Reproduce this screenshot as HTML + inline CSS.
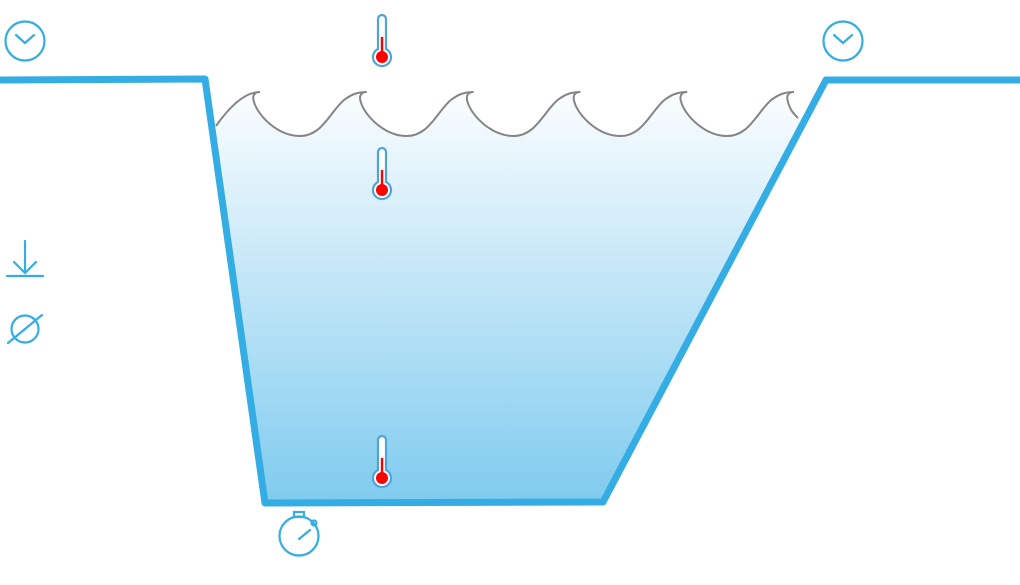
<!DOCTYPE html>
<html><head><meta charset="utf-8"><style>html,body{margin:0;padding:0;background:#fff;width:1020px;height:585px;overflow:hidden}</style></head>
<body>
<svg width="1020" height="585" viewBox="0 0 1020 585">
<defs>
<linearGradient id="wg" x1="0" y1="0" x2="0" y2="1">
<stop offset="0" stop-color="#fbfdff"/><stop offset="1" stop-color="#7fcbee"/>
</linearGradient>
</defs>
<g id="water"></g>
<path d="M0,80 L205,79 L265,503 L603,502 L826,80 L1020,80" fill="none" stroke="#33ade3" stroke-width="7" stroke-linejoin="round"/>
<g id="thermos"></g>
<g fill="none" stroke="#33ade3" stroke-width="2.2" stroke-linecap="round">
<circle cx="25" cy="41" r="19.5"/><path d="M16,35 L25,43 L34,35"/></g>
<g fill="none" stroke="#33ade3" stroke-width="2.2" stroke-linecap="round">
<circle cx="843" cy="41" r="19.5"/><path d="M834,35 L843,43 L852,35"/></g>
<g fill="none" stroke="#33ade3" stroke-width="2.2" stroke-linecap="round">
<path d="M25,241 L25,272 M14,262 L25,273 L36,262 M7,276 L43,276"/></g>
<g fill="none" stroke="#33ade3" stroke-width="2.2" stroke-linecap="round">
<circle cx="25" cy="329" r="13.5"/><path d="M8,343 L42,315"/></g>
<g fill="none" stroke="#33ade3" stroke-width="2.2" stroke-linecap="round">
<circle cx="299" cy="536" r="19.5"/><rect x="294" y="512" width="10" height="5"/><circle cx="314" cy="523" r="2.5"/><path d="M299,539 L310,530"/></g>
</svg>
<script>
var ns='http://www.w3.org/2000/svg';
var crestCount=6;
var wavePath='M216,126 C230,106 245,92 260,92';
for(var i=0;i<crestCount-1;i++){wavePath+=' c -6,0 -8,4 -6,10 c 4,14 24,34 46,34 c 22,0 30,-24 44,-36 c 8,-6 14,-8 22.8,-8';}
var surfacePath=wavePath+' c -6,0 -8,4 -6,10 c 2,8 6,12 10,16';
var w=document.getElementById('water');
var fill=document.createElementNS(ns,'path');
fill.setAttribute('d',surfacePath+' L802,118 L603,502 L265,503 L216,126 Z');
fill.setAttribute('fill','url(#wg)');


w.appendChild(fill);
var wave=document.createElementNS(ns,'path');
wave.setAttribute('d',surfacePath);
wave.setAttribute('fill','none');wave.setAttribute('stroke','#858585');wave.setAttribute('stroke-width','2');


w.appendChild(wave);
var thermoTops=[16,149,437];
var tg=document.getElementById('thermos');
thermoTops.forEach(function(t){
 var g=document.createElementNS(ns,'g');
 
 
 g.innerHTML='<path d="M378,'+(t+3)+' a4,4 0 0 1 8,0 L386,'+(t+33)+' a9,9 0 1 1 -8,0 Z" fill="#fff" stroke="#4fa3d6" stroke-width="2.2"/>'+
 '<rect x="380.8" y="'+(t+21)+'" width="2.4" height="16" fill="#f00"/><circle cx="382" cy="'+(t+41)+'" r="6" fill="#f00"/>';
 tg.appendChild(g);
});
</script>
</body></html>
